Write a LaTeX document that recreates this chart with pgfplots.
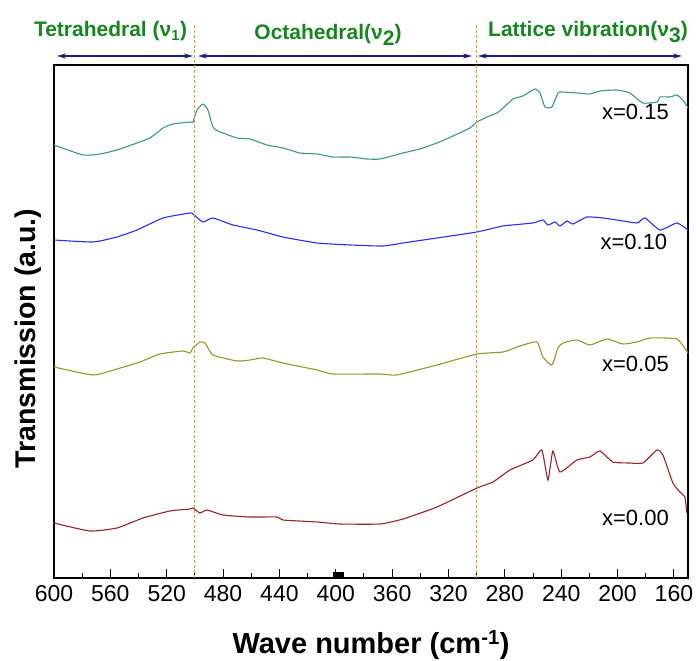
\documentclass[border=0pt]{standalone}
\usepackage{pgfplots}
\pgfplotsset{compat=1.18}
\usepackage{fontspec}
\setmainfont{Liberation Sans}
\usetikzlibrary{arrows.meta}
\definecolor{cteal}{RGB}{60,150,140}
\definecolor{cblue}{RGB}{45,45,240}
\definecolor{colive}{RGB}{150,150,45}
\definecolor{cred}{RGB}{150,35,40}
\definecolor{corange}{RGB}{255,140,30}
\definecolor{cgreen}{RGB}{20,135,30}
\definecolor{cnavy}{RGB}{30,30,130}
\begin{document}
\begin{tikzpicture}
\useasboundingbox (0,0) rectangle (696bp,661bp);
\begin{axis}[at={(54bp,83bp)}, anchor=south west, scale only axis,
  width=634bp, height=513bp, x dir=reverse,
  xmin=150, xmax=600, ymin=0, ymax=513,
  xtick={160,200,...,600}, minor xtick={180,220,...,580}, ytick=\empty,
  xtick pos=bottom, tick align=inside,
  major tick length=9bp, minor tick length=5bp,
  axis line style={line width=1.1bp},
  every tick/.style={black, line width=1bp},
  clip=false,
  xticklabel style={font=\fontsize{23bp}{23bp}\selectfont, yshift=-4bp},
  /pgf/number format/assume math mode=true,
  every axis plot/.append style={line width=1.1bp, smooth, tension=0.3}]
% x=0.15
\addplot[cteal] coordinates {
(600.0,433)(579.4,423)(567.4,424)(555.3,428)(541.1,435)(531.9,440)(522.6,450)(515.5,454)
(503.5,456)(501.4,456)(498.5,468)(494.3,474)(490.7,468)(487.2,451)(483.6,447)(470.1,440)
(460.9,439)(448.8,433)(437.5,430)(425.4,425)(413.3,424)(402.0,421)(389.9,421)(377.9,419)
(368.6,419)(352.3,425)(340.3,429)(328.2,435)(316.8,442)(304.8,450)(299.8,456)(292.7,461)
(285.6,465)(281.3,470)(274.2,479)(267.2,482)(258.6,489)(255.1,485)(251.5,471)(246.6,471)
(242.3,485)(239.5,486)(228.8,485)(219.6,484)(212.5,487)(200.4,488)(191.2,485)(182.0,475)
(172.0,476)(169.9,481)(162.8,481)(157.9,483)(153.6,478)(150.0,470)};
% x=0.10
\addplot[cblue] coordinates {
(600,338)(572.3,336)(555.3,341)(541.1,348)(522.6,360)(503.5,365)(501.4,364)(494.3,356)
(487.2,360)(473.0,353)(455.9,348)(437.5,341)(413.3,335)(389.9,333)(366.5,332)(352.3,335)
(328.2,340)(299.8,346)(281.3,352)(260.1,355)(253.0,358)(249.4,353)(244.4,356)(240.9,352)
(235.9,357)(231.7,354)(221.7,361)(210.4,360)(200.4,358)(186.2,355)(180.6,360)(169.9,348)
(157.9,355)(150.0,348)};
% x=0.05
\addplot[colive] coordinates {
(600,211)(572.3,203)(555.3,209)(539.0,216)(524.8,224)(508.4,227)(503.5,225)(501.4,230)
(496.4,236)(492.8,235)(487.2,223)(470.1,217)(460.9,218)(451.7,220)(437.5,215)(413.3,208)
(402.0,204)(368.6,204)(356.6,203)(328.2,213)(299.8,224)(281.3,226)(269.3,232)(257.2,236)
(253.0,221)(246.6,213)(242.3,230)(238.8,235)(228.8,238)(219.6,233)(207.5,239)(196.2,234)
(186.2,236)(177.0,240)(157.9,239)(150.0,225)};
% x=0.00
\addplot[cred] coordinates {
(600,55)(574.5,47)(555.3,50)(536.8,60)(517.7,67)(503.5,69)(501.4,70)(496.4,65)(491.4,68)
(480.1,63)(460.9,61)(441.7,61)(437.5,58)(413.3,56)(397.0,54)(368.6,54)(352.3,59)(328.2,71)
(299.8,90)(288.4,96)(276.4,108)(260.1,118)(253.7,128)(249.4,98)(245.9,127)(240.9,106)
(228.8,118)(219.6,121)(212.5,127)(203.3,116)(191.2,115)(182.0,115)(172.0,128)(167.8,123)
(160.7,95)(155.7,86)(152.2,81)(150.8,65)};
% dashed separators
\addplot[corange, line width=1.1bp, dash pattern=on 3bp off 2bp, sharp plot] coordinates {(500,0)(500,555)};
\addplot[corange, line width=1.1bp, dash pattern=on 3bp off 2bp, sharp plot] coordinates {(300,0)(300,555)};
% small black block on axis
\addplot[fill=black, draw=none, sharp plot] coordinates {(402,0)(394.5,0)(394.5,5.5)(402,5.5)} -- cycle;
% region arrows
\draw[cnavy, line width=1.1bp, {Stealth[length=9bp,width=5bp]}-{Stealth[length=9bp,width=5bp]}] (axis cs:597.9,522) -- (axis cs:501.4,522);
\draw[cnavy, line width=1.1bp, {Stealth[length=9bp,width=5bp]}-{Stealth[length=9bp,width=5bp]}] (axis cs:497.8,522) -- (axis cs:303.3,522);
\draw[cnavy, line width=1.1bp, {Stealth[length=9bp,width=5bp]}-{Stealth[length=9bp,width=5bp]}] (axis cs:299.1,522) -- (axis cs:154.3,522);
% sample labels
\begin{scope}[every node/.style={font=\fontsize{22bp}{22bp}\selectfont}]
\node at (axis cs:187.3,466) {x=0.15};
\node at (axis cs:188.4,336) {x=0.10};
\node at (axis cs:187.3,214) {x=0.05};
\node at (axis cs:187.3,60) {x=0.00};
\end{scope}
\end{axis}
\begin{scope}[every node/.style={text=cgreen, anchor=base, font=\bfseries\fontsize{21bp}{21bp}\selectfont}]
\node at (110.5bp,624bp) {Tetrahedral (ν\textsubscript{1})};
\node at (328bp,621bp) {Octahedral(ν\raisebox{-0.28em}{2})};
\node at (588bp,624bp) {Lattice vibration(ν\raisebox{-0.25em}{3})};
\end{scope}
\node[rotate=90, anchor=base, font=\bfseries\fontsize{28.5bp}{28.5bp}\selectfont] at (35bp,322.5bp) {Transmission (a.u.)};
\node[anchor=base, font=\bfseries\fontsize{29bp}{29bp}\selectfont] at (371bp,7.5bp) {Wave number (cm\textsuperscript{-1})};
\end{tikzpicture}
\end{document}
